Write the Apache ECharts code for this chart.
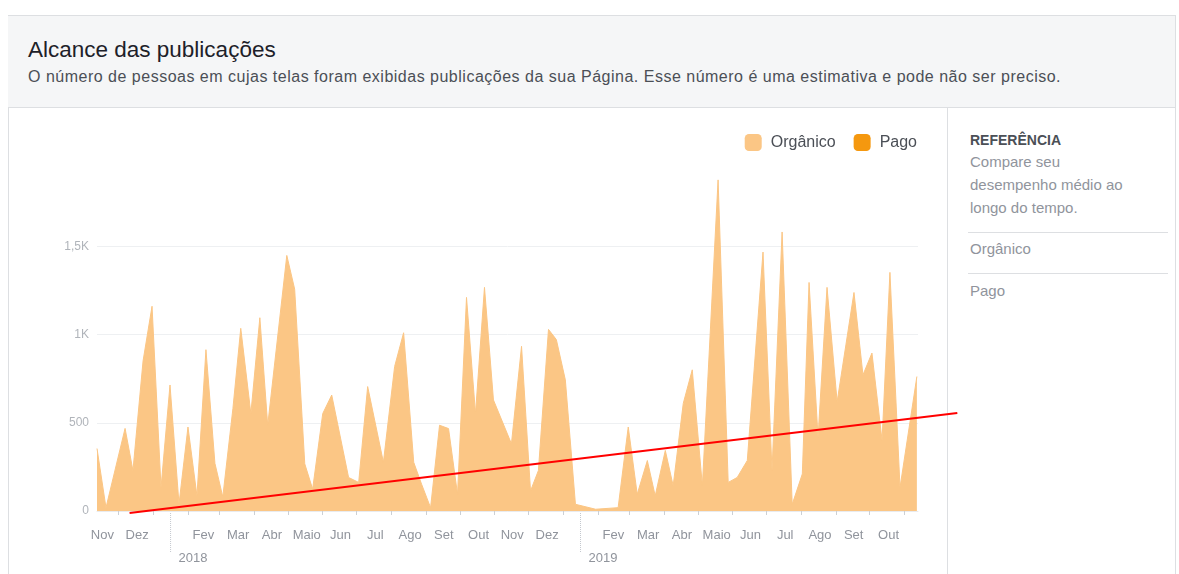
<!DOCTYPE html>
<html>
<head>
<meta charset="utf-8">
<script src="https://cdn.jsdelivr.net/npm/echarts/dist/echarts.min.js"></script>
<style>
  body { margin: 0; background: #fff; font-family: "Liberation Sans", Arial, sans-serif; }
  .card { position: absolute; left: 8px; top: 15px; width: 1166px; height: 600px; border: 1px solid #dddfe2; background: #fff; }
  .hd { position: absolute; left: 8px; top: 16px; width: 1167px; height: 91px; background: #f5f6f7; border-bottom: 1px solid #dddfe2; }
  .titulo { position: absolute; left: 28px; top: 39px; font-size: 22.5px; line-height: 22px; color: #1d2129; white-space: nowrap; }
  .sub { position: absolute; left: 28px; top: 69px; font-size: 16px; line-height: 15px; letter-spacing: 0.5px; color: #4b4f56; white-space: nowrap; }
  .divisor { position: absolute; left: 947px; top: 108px; width: 1px; height: 470px; background: #dddfe2; }
  .lado { position: absolute; left: 970px; color: #90949c; font-size: 15px; line-height: 23px; white-space: nowrap; }
  .ref { color: #4b4f56; font-size: 14px; font-weight: bold; }
  .hr { position: absolute; left: 968px; width: 200px; height: 1px; background: #dddfe2; }
  #main { position: absolute; left: 0; top: 108px; width: 1179px; height: 466px; }
</style>
</head>
<body>
<div class="card"></div>
<div class="hd"></div>
<div class="titulo">Alcance das publicações</div>
<div class="sub">O número de pessoas em cujas telas foram exibidas publicações da sua Página. Esse número é uma estimativa e pode não ser preciso.</div>
<div class="divisor"></div>
<div class="lado ref" style="top:129px">REFERÊNCIA</div>
<div class="lado" style="top:150px">Compare seu<br>desempenho médio ao<br>longo do tempo.</div>
<div class="hr" style="top:232px"></div>
<div class="lado" style="top:237px">Orgânico</div>
<div class="hr" style="top:273px"></div>
<div class="lado" style="top:279px">Pago</div>
<div id="main"></div>
<script>
  // datas e alcance orgânico
  var datas = [
    '2017-11-12', '2017-11-20', '2017-12-07', '2017-12-14', '2017-12-23', '2017-12-31',
    '2018-01-08', '2018-01-16', '2018-01-24', '2018-02-01', '2018-02-09', '2018-02-17',
    '2018-02-25', '2018-03-04', '2018-03-13', '2018-03-20', '2018-03-29', '2018-04-06',
    '2018-04-13', '2018-04-30', '2018-05-07', '2018-05-16', '2018-05-23', '2018-06-01',
    '2018-06-09', '2018-06-24', '2018-07-03', '2018-07-11', '2018-07-25', '2018-08-04',
    '2018-08-12', '2018-08-21', '2018-08-28', '2018-09-05', '2018-09-13', '2018-09-21',
    '2018-09-29', '2018-10-07', '2018-10-15', '2018-10-23', '2018-10-31', '2018-11-16',
    '2018-11-25', '2018-12-03', '2018-12-10', '2018-12-19', '2018-12-26', '2019-01-03',
    '2019-01-12', '2019-01-30', '2019-02-19', '2019-02-28', '2019-03-08', '2019-03-17',
    '2019-03-24', '2019-04-02', '2019-04-09', '2019-04-18', '2019-04-26', '2019-05-05',
    '2019-05-19', '2019-05-28', '2019-06-05', '2019-06-14', '2019-06-28', '2019-07-06',
    '2019-07-15', '2019-07-24', '2019-08-02', '2019-08-08', '2019-08-16', '2019-08-24',
    '2019-09-02', '2019-09-17', '2019-09-25', '2019-10-03', '2019-10-12', '2019-10-19',
    '2019-10-28', '2019-11-12'
  ];
  var organico = [
    354, 19, 468, 229, 850, 1160,
    133, 714, 40, 476, 86, 914,
    270, 80, 580, 1035, 552, 1095,
    486, 1448, 1257, 267, 124, 552,
    657, 190, 162, 705, 276, 819,
    1010, 276, 152, 19, 486, 467,
    95, 1210, 552, 1267, 629, 381,
    933, 114, 229, 1029, 971, 743,
    38, 10, 19, 476, 95, 286,
    86, 343, 143, 610, 800, 143,
    1876, 162, 190, 286, 1467, 229,
    1581, 38, 210, 1295, 419, 1267,
    619, 1238, 771, 895, 400, 1352,
    133, 762
  ];
  var pago = [];

  // linha de tendência desenhada por cima (vermelha)
  var tendenciaDatas = ['2017-12-11', '2019-12-18'];
  var tendenciaValores = [-11, 555];

  // marcas de ano (meio de janeiro)
  var anoDatas = ['2018-01-16 12:00', '2019-01-16 12:00'];
  var anoRotulos = ['2018', '2019'];

  var meses = ['Jan', 'Fev', 'Mar', 'Abr', 'Maio', 'Jun', 'Jul', 'Ago', 'Set', 'Out', 'Nov', 'Dez'];
  var yTicks = [0, 500, 1000, 1500, 2000];

  var inicio = '2017-11-12';
  var fim = '2019-11-13';
  var fonte = '"Liberation Sans", Arial, sans-serif';
  var corOrg = '#fbc685';
  var corPago = '#f5980f';

  var DIA = 86400000;
  var esquerda = 97, direita = 261;
  // a tendência passa da borda do gráfico: grid próprio com a mesma escala, só mais largo
  var pxPorDia = (1179 - esquerda - direita) / ((new Date(fim) - new Date(inicio)) / DIA);
  var fimTend = tendenciaDatas[tendenciaDatas.length - 1];
  var direitaTend = 1179 - esquerda - pxPorDia * ((new Date(fimTend) - new Date(inicio)) / DIA);

  var myChart = echarts.init(document.getElementById('main'));

  var serieOrg = datas.map(function (d, i) { return [d, organico[i]]; });
  var seriePago = pago.map(function (v, i) { return [datas[i], v]; });
  var serieTend = tendenciaDatas.map(function (d, i) { return [d, tendenciaValores[i]]; });

  var series = [{
      name: 'Orgânico',
      type: 'line',
      data: serieOrg,
      symbol: 'none',
      itemStyle: { color: corOrg },
      lineStyle: { color: corOrg, width: 1 },
      areaStyle: { color: corOrg, opacity: 1 },
      z: 2
    }, {
      name: 'Pago',
      type: 'line',
      data: seriePago,
      symbol: 'none',
      itemStyle: { color: corPago },
      lineStyle: { color: corPago, width: 1 },
      areaStyle: { color: corPago, opacity: 1 }
    }, {
      name: 'tendencia',
      type: 'line',
      xAxisIndex: 2,
      yAxisIndex: 2,
      data: serieTend,
      symbol: 'none',
      clip: false,
      silent: true,
      lineStyle: { color: '#ff0000', width: 2 },
      z: 10
  }];

  for (var i = 0; i < anoDatas.length; i++) {
    series.push({
      name: 'ano' + anoRotulos[i],
      type: 'line',
      xAxisIndex: 1,
      yAxisIndex: 1,
      data: [[anoDatas[i], 1], [anoDatas[i], 0]],
      symbol: 'none',
      silent: true,
      lineStyle: { color: '#c4c8ce', width: 1, type: 'dotted' },
      endLabel: {
        show: true,
        formatter: anoRotulos[i],
        color: '#90949c',
        fontSize: 13,
        fontFamily: fonte,
        offset: [0, 6]
      }
    });
  }

  var option = {
    animation: false,
    backgroundColor: 'transparent',
    textStyle: { fontFamily: fonte },
    legend: {
      data: ['Orgânico', 'Pago'],
      right: 257,
      top: 21,
      icon: 'roundRect',
      itemWidth: 17,
      itemHeight: 17,
      itemGap: 18,
      textStyle: { color: '#4b4f56', fontSize: 16, fontFamily: fonte, padding: [0, 0, 0, 4] }
    },
    grid: [
      { left: esquerda, right: direita, top: 50, bottom: 63 },
      { left: esquerda, right: direita, top: 405, height: 39 },
      { left: esquerda, right: direitaTend, top: 50, bottom: 63 }
    ],
    xAxis: [{
      type: 'time',
      min: inicio,
      max: fim,
      splitNumber: 24,
      minInterval: 28 * DIA,
      maxInterval: 31 * DIA,
      axisLine: { show: true, lineStyle: { color: '#e9ebee' } },
      axisTick: { show: true, length: 4, lineStyle: { color: '#ccd0d5' } },
      splitLine: { show: false },
      axisLabel: {
        hideOverlap: false,
        margin: 18,
        formatter: function (value) {
          var d = new Date(value);
          if (d.getDate() !== 1) return '';
          var ant = (d.getMonth() + 11) % 12;
          if (ant === 0) return '';
          return '{m|' + meses[ant] + '}';
        },
        rich: {
          m: { color: '#90949c', fontSize: 13, fontFamily: fonte, padding: [0, 32, 0, 0] }
        }
      }
    }, {
      type: 'time',
      gridIndex: 1,
      min: inicio,
      max: fim,
      show: false
    }, {
      type: 'time',
      gridIndex: 2,
      min: inicio,
      max: fimTend,
      show: false
    }],
    yAxis: [{
      type: 'value',
      min: yTicks[0],
      max: yTicks[yTicks.length - 1],
      interval: 500,
      axisLine: { show: false },
      axisTick: { show: false },
      axisLabel: {
        color: '#b0b4ba',
        fontSize: 12,
        margin: 8,
        showMaxLabel: false,
        formatter: function (v) {
          if (v >= 1000) return String(v / 1000).replace('.', ',') + 'K';
          return String(v);
        }
      },
      splitLine: { show: true, showMaxLine: false, lineStyle: { color: '#eef0f2' } }
    }, {
      type: 'value',
      gridIndex: 1,
      min: 0,
      max: 1,
      show: false
    }, {
      type: 'value',
      gridIndex: 2,
      min: yTicks[0],
      max: yTicks[yTicks.length - 1],
      show: false
    }],
    series: series
  };

  myChart.setOption(option);
</script>
</body>
</html>
